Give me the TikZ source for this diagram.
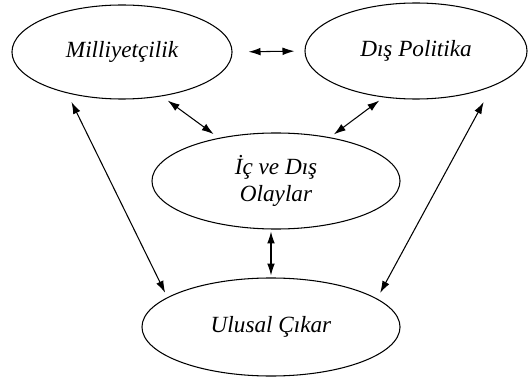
\documentclass[tikz,border=0pt]{standalone}
\usepackage{fontspec}
\setmainfont{Liberation Serif}[ItalicFont={Liberation Serif Italic}]
\usetikzlibrary{shapes.geometric,arrows.meta}

\begin{document}
\begin{tikzpicture}[x=0.025cm, y=-0.025cm, >={Latex[length=8.5pt,width=5.5pt]}, line width=0.75pt,
    kavram/.style={draw, ellipse, inner sep=0pt, align=center,
        font=\fontsize{16.5}{19}\selectfont\itshape}]
    \useasboundingbox (0,0) rectangle (528,381);
    \node[kavram, minimum width=5.5cm, minimum height=2.35cm](mil) at (122,52) {Milliyetçilik};
    \node[kavram, minimum width=5.55cm, minimum height=2.4cm](pol) at (416,51) {Dış Politika};
    \node[kavram, minimum width=6.2cm, minimum height=2.4cm](olay) at (276,181) {İç ve Dış\\Olaylar};
    \node[kavram, minimum width=6.45cm, minimum height=2.45cm](ulu) at (271,327) {Ulusal Çıkar};
    % karsilikli etkiler
    \draw[<->, shorten <=0.4cm, shorten >=0.25cm](mil.east)--(pol.west);
    \draw[<->, shorten <=0.18cm, shorten >=0.16cm](mil.-48.3)--(olay.143.1);
    \draw[<->, shorten <=0.13cm, shorten >=0.12cm](pol.235.5)--(olay.39.9);
    \draw[<->, shorten <=0.24cm, shorten >=0.125cm](mil.217.9)--(ulu.164);
    \draw[<->, shorten <=0.44cm, shorten >=0.16cm](pol.-25.6)--(ulu.15.2);
\draw[<->, shorten <=0.05cm, shorten >=0.05cm](ulu.north|-olay.south)--(ulu.north);

\end{tikzpicture}
\end{document}
